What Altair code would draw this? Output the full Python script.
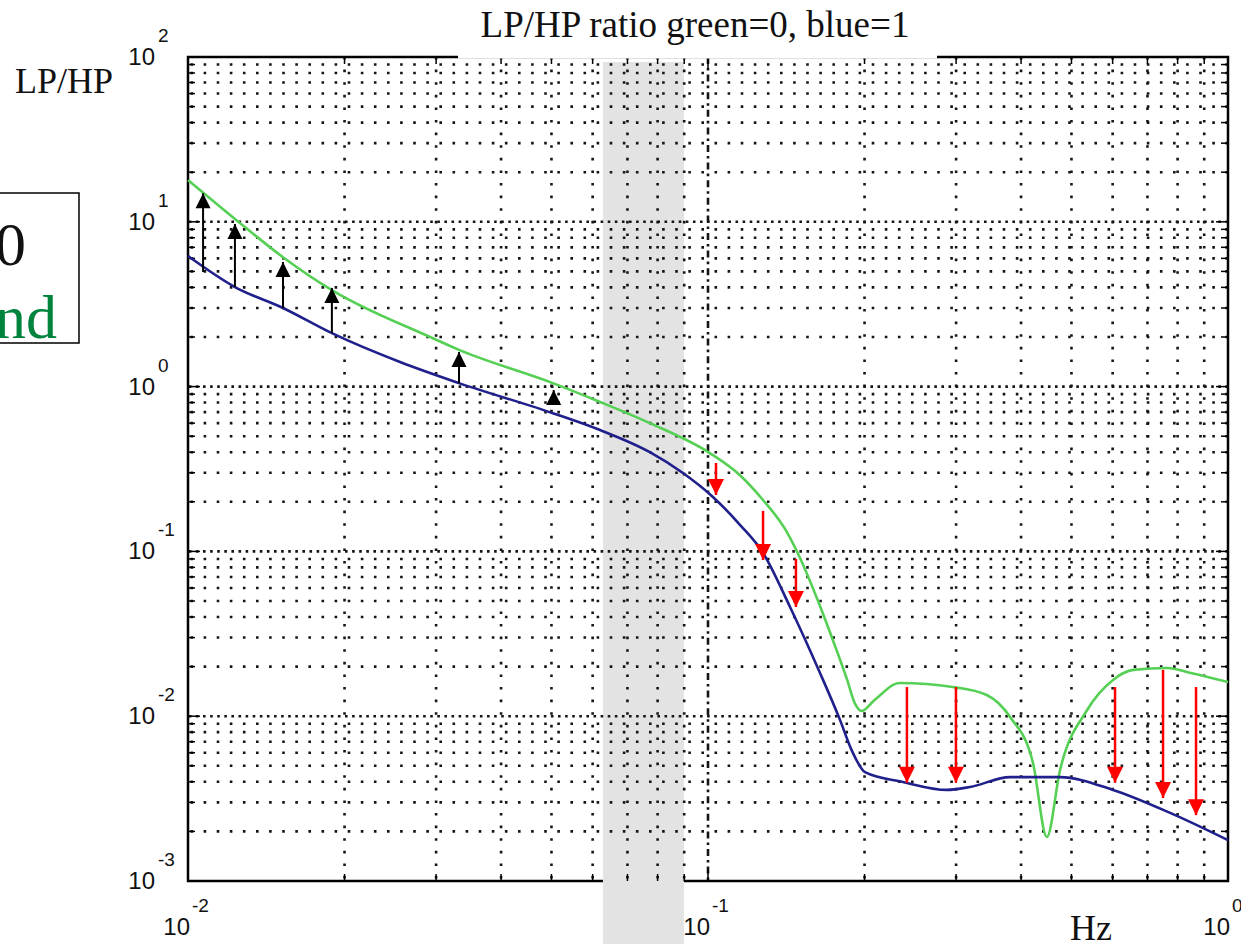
import altair as alt
import pandas as pd

# ---- curves ----
blue_x = [0.01, 0.01231, 0.01523, 0.01891, 0.02557, 0.0332, 0.0503, 0.0620, 0.0773, 0.0895,
          0.1022, 0.1152, 0.1276, 0.1438, 0.1642, 0.1794, 0.189, 0.2004, 0.2371, 0.288,
          0.319, 0.381, 0.475, 0.601, 0.774, 1.0]
blue_y = [6.2, 4.02, 3.0, 2.11, 1.41, 1.05, 0.69, 0.545, 0.40, 0.299,
          0.214, 0.145, 0.098, 0.046, 0.0183, 0.0095, 0.0062, 0.00458, 0.00399, 0.00357,
          0.00372, 0.00427, 0.00427, 0.00357, 0.00259, 0.00177]

green_x = [0.01, 0.01231, 0.01523, 0.01891, 0.0292, 0.0332, 0.0503, 0.0620, 0.0773, 0.1008,
           0.1152, 0.1276, 0.141, 0.150, 0.1625, 0.1738, 0.1852, 0.1915, 0.1975, 0.2091,
           0.2338, 0.2955, 0.3436, 0.381, 0.4217, 0.4484, 0.4754, 0.5359, 0.601, 0.6576,
           0.7634, 0.8478, 1.0]
green_y = [17.9, 10.4, 6.1, 3.85, 2.0, 1.67, 1.05, 0.807, 0.60, 0.395,
           0.29, 0.205, 0.135, 0.0925, 0.0507, 0.029, 0.0166, 0.0120, 0.01076, 0.01254,
           0.0159, 0.01503, 0.01345, 0.00989, 0.0052, 0.00185, 0.00472, 0.0109, 0.0166, 0.0191,
           0.0196, 0.0183, 0.0161]

# ---- arrows ----
black_x = [0.01069, 0.01231, 0.01523, 0.01891, 0.0332, 0.0505]
black_from = [4.96, 4.02, 3.0, 2.11, 1.05, 0.773]
black_to = [14.9, 9.7, 5.70, 3.97, 1.62, 0.953]

red_x = [0.1036, 0.1276, 0.1476, 0.2413, 0.2998, 0.6064, 0.75, 0.868]
red_from = [0.344, 0.176, 0.090, 0.01503, 0.01503, 0.01503, 0.0191, 0.01503]
red_to = [0.22, 0.0887, 0.046, 0.00394, 0.00394, 0.00394, 0.00319, 0.00251]

# ---- shaded band ----
band_lo = [0.0628]
band_hi = [0.0899]

# ---- ticks / labels ----
y_decades = [0.001, 0.01, 0.1, 1, 10, 100]
y_exps = ["-3", "-2", "-1", "0", "1", "2"]
x_decades = [0.01, 0.1, 1]
x_exps = ["-2", "-1", "0"]
mults = [2, 3, 4, 5, 6, 7, 8, 9]
y_minor = [m * d for d in [0.001, 0.01, 0.1, 1, 10] for m in mults]
x_minor = [m * d for d in [0.01, 0.1] for m in mults]
y_inner_decades = [0.01, 0.1, 1, 10]
x_inner_decades = [0.1]

W, H = 1040, 824
xs = alt.Scale(type="log", domain=[0.01, 1], nice=False)
ys = alt.Scale(type="log", domain=[0.001, 100], nice=False)
SERIF = "Liberation Serif"
SANS = "Liberation Sans"
BL = "alphabetic"

blue_df = pd.DataFrame({"f": blue_x, "r": blue_y})
green_df = pd.DataFrame({"f": green_x, "r": green_y})
black_df = pd.DataFrame({"f": black_x, "a": black_from, "b": black_to})
red_df = pd.DataFrame({"f": red_x, "a": red_from, "b": red_to})
band_df = pd.DataFrame({"lo": band_lo, "hi": band_hi})

band = alt.Chart(band_df).mark_rect(color="#e3e3e3").encode(
    x=alt.X("lo:Q", scale=xs, axis=None), x2="hi:Q",
    y=alt.value(5), y2=alt.value(H + 63))

dot = dict(color="#151515", strokeWidth=2.6)
grid_y_minor = alt.Chart(pd.DataFrame({"v": y_minor})).mark_rule(strokeDash=[2.6, 10.5], **dot).encode(
    y=alt.Y("v:Q", scale=ys, axis=None))
grid_y_major = alt.Chart(pd.DataFrame({"v": y_inner_decades})).mark_rule(strokeDash=[2.6, 4.5], **dot).encode(
    y=alt.Y("v:Q", scale=ys, axis=None))
grid_x_minor = alt.Chart(pd.DataFrame({"v": x_minor})).mark_rule(strokeDash=[2.6, 10], **dot).encode(
    x=alt.X("v:Q", scale=xs, axis=None))
grid_x_major = alt.Chart(pd.DataFrame({"v": x_inner_decades})).mark_rule(strokeDash=[7, 4, 2.6, 4], **dot).encode(
    x=alt.X("v:Q", scale=xs, axis=None))

tk = dict(color="black", strokeWidth=1.5)
ymin_df = pd.DataFrame({"v": y_minor})
ymaj_df = pd.DataFrame({"v": y_inner_decades})
xmin_df = pd.DataFrame({"v": x_minor})
xmaj_df = pd.DataFrame({"v": x_inner_decades})
ticks = [
    alt.Chart(ymin_df).mark_rule(**tk).encode(y=alt.Y("v:Q", scale=ys, axis=None), x=alt.value(0), x2=alt.value(7)),
    alt.Chart(ymin_df).mark_rule(**tk).encode(y=alt.Y("v:Q", scale=ys, axis=None), x=alt.value(W - 7), x2=alt.value(W)),
    alt.Chart(ymaj_df).mark_rule(**tk).encode(y=alt.Y("v:Q", scale=ys, axis=None), x=alt.value(0), x2=alt.value(12)),
    alt.Chart(ymaj_df).mark_rule(**tk).encode(y=alt.Y("v:Q", scale=ys, axis=None), x=alt.value(W - 12), x2=alt.value(W)),
    alt.Chart(xmin_df).mark_rule(**tk).encode(x=alt.X("v:Q", scale=xs, axis=None), y=alt.value(H - 7), y2=alt.value(H)),
    alt.Chart(xmin_df).mark_rule(**tk).encode(x=alt.X("v:Q", scale=xs, axis=None), y=alt.value(0), y2=alt.value(7)),
    alt.Chart(xmaj_df).mark_rule(**tk).encode(x=alt.X("v:Q", scale=xs, axis=None), y=alt.value(H - 12), y2=alt.value(H)),
    alt.Chart(xmaj_df).mark_rule(**tk).encode(x=alt.X("v:Q", scale=xs, axis=None), y=alt.value(0), y2=alt.value(12)),
]

green_line = alt.Chart(green_df).mark_line(color="#55d055", strokeWidth=2.6, interpolate="monotone").encode(
    x=alt.X("f:Q", scale=xs, axis=None), y=alt.Y("r:Q", scale=ys, axis=None))
blue_line = alt.Chart(blue_df).mark_line(color="#20208c", strokeWidth=2.6, interpolate="monotone").encode(
    x=alt.X("f:Q", scale=xs, axis=None), y=alt.Y("r:Q", scale=ys, axis=None))

black_shaft = alt.Chart(black_df).mark_rule(color="black", strokeWidth=2).encode(
    x=alt.X("f:Q", scale=xs, axis=None), y=alt.Y("a:Q", scale=ys, axis=None), y2="b:Q")
black_head = alt.Chart(black_df).mark_point(shape="M0,0L-1,2L1,2Z", size=225, filled=True,
                                            color="black", opacity=1).encode(
    x=alt.X("f:Q", scale=xs, axis=None), y=alt.Y("b:Q", scale=ys, axis=None))
red_shaft = alt.Chart(red_df).mark_rule(color="#ff0000", strokeWidth=2.5).encode(
    x=alt.X("f:Q", scale=xs, axis=None), y=alt.Y("a:Q", scale=ys, axis=None), y2="b:Q")
red_head = alt.Chart(red_df).mark_point(shape="M0,0L-1,-2L1,-2Z", size=256, filled=True,
                                        color="#ff0000", opacity=1).encode(
    x=alt.X("f:Q", scale=xs, axis=None), y=alt.Y("b:Q", scale=ys, axis=None))

ylab_df = pd.DataFrame({"v": y_decades, "e": y_exps})
xlab_df = pd.DataFrame({"v": x_decades, "e": x_exps})
ylab10 = alt.Chart(ylab_df).mark_text(text="10", font=SANS, fontSize=24, align="right", baseline=BL, dy=8,
                                      color="#111").encode(
    y=alt.Y("v:Q", scale=ys, axis=None), x=alt.value(-33))
ylabE = alt.Chart(ylab_df).mark_text(font=SANS, fontSize=19, align="left", baseline=BL, dy=-15,
                                     color="#111").encode(
    y=alt.Y("v:Q", scale=ys, axis=None), x=alt.value(-30), text="e:N")
xlab10 = alt.Chart(xlab_df).mark_text(text="10", font=SANS, fontSize=24, align="right", baseline=BL, dx=2,
                                      color="#111").encode(
    x=alt.X("v:Q", scale=xs, axis=None), y=alt.value(H + 54))
xlabE = alt.Chart(xlab_df).mark_text(font=SANS, fontSize=19, align="left", baseline=BL, dx=4,
                                     color="#111").encode(
    x=alt.X("v:Q", scale=xs, axis=None), y=alt.value(H + 31), text="e:N")

one = pd.DataFrame({"k": [0]})
title_box = alt.Chart(one).mark_rect(color="white").encode(
    x=alt.value(270), x2=alt.value(749), y=alt.value(-57), y2=alt.value(1.5))
title = alt.Chart(one).mark_text(
    text="LP/HP ratio green=0, blue=1", font=SERIF, fontSize=37, align="center", baseline=BL,
    color="#111").encode(x=alt.value(507), y=alt.value(-20))
ylabel = alt.Chart(one).mark_text(
    text="LP/HP", font=SERIF, fontSize=36, align="left", baseline=BL, color="#111").encode(
    x=alt.value(-173), y=alt.value(36))
xlabel = alt.Chart(one).mark_text(
    text="Hz", font=SERIF, fontSize=36, align="center", baseline=BL, color="#111").encode(
    x=alt.value(903), y=alt.value(H + 59))
side_box = alt.Chart(one).mark_rect(fill="white", stroke="black", strokeWidth=1.5).encode(
    x=alt.value(-210), x2=alt.value(-109), y=alt.value(136), y2=alt.value(286))
side_0 = alt.Chart(one).mark_text(
    text="0", font=SERIF, fontSize=62, align="left", baseline=BL, color="#111").encode(
    x=alt.value(-193), y=alt.value(208))
side_nd = alt.Chart(one).mark_text(
    text="nd", font=SERIF, fontSize=62, align="left", baseline=BL, color="#00843d").encode(
    x=alt.value(-193), y=alt.value(281))

chart = alt.layer(
    band, grid_y_minor, grid_y_major, grid_x_minor, grid_x_major, *ticks,
    green_line, blue_line, black_shaft, black_head, red_shaft, red_head,
    ylab10, ylabE, xlab10, xlabE, title_box, title, ylabel, xlabel,
    side_box, side_0, side_nd
).properties(
    width=W, height=H, autosize="none",
    padding={"left": 188, "top": 57, "right": 13, "bottom": 63},
    background="white"
).configure_view(stroke="black", strokeWidth=2.5, fill="white")

chart.save("out.html", embed_options={"renderer": "svg", "actions": False})
